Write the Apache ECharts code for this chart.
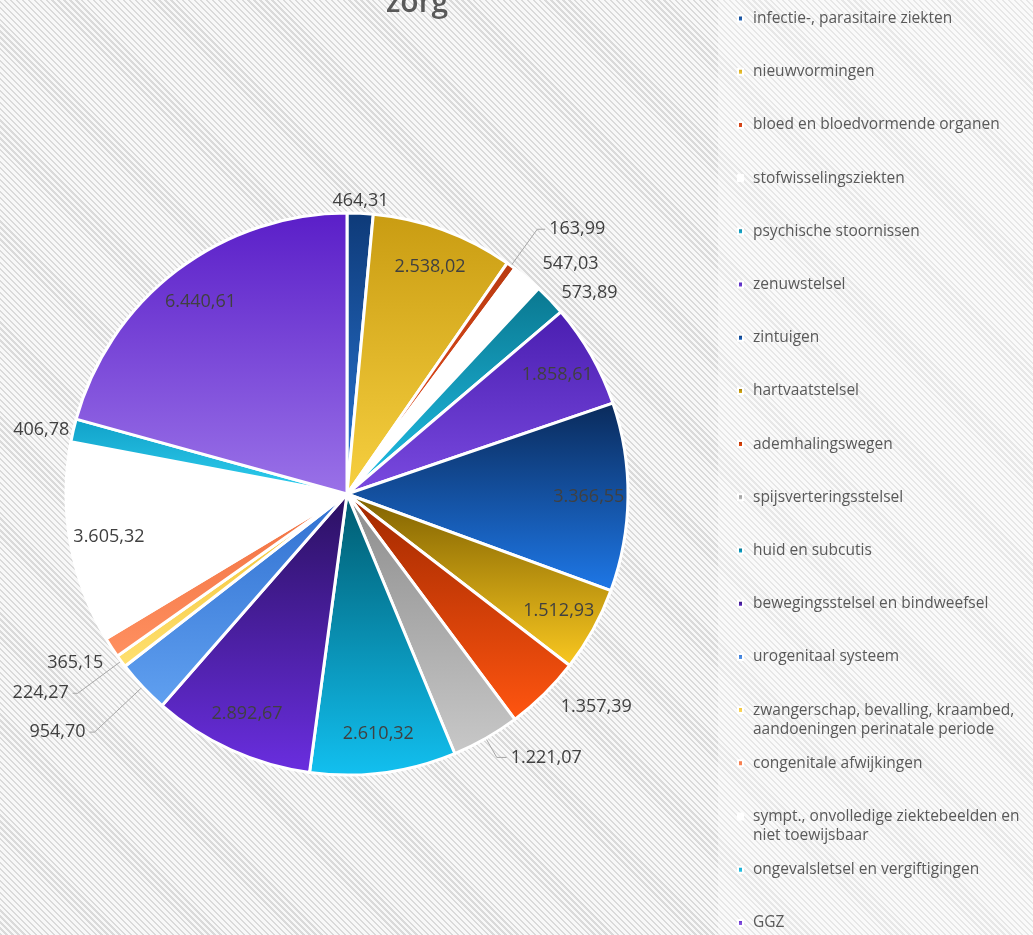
<!DOCTYPE html>
<html>
<head>
<meta charset="utf-8">
<script src="https://cdn.jsdelivr.net/npm/echarts@6/dist/echarts.min.js"></script>
<style>
  body { margin: 0; }
  #wrap {
    position: relative;
    width: 1033px;
    height: 935px;
    background: repeating-linear-gradient(45deg, #dadada 0 1.6px, #f8f8f8 1.6px 4.2px);
  }
  #panel {
    position: absolute;
    left: 718px;
    top: 0;
    width: 315px;
    height: 935px;
    background: rgba(255, 255, 255, 0.35);
  }
  #chart {
    position: absolute;
    left: 0;
    top: 0;
    width: 1033px;
    height: 935px;
  }
</style>
</head>
<body>
<div id="wrap">
  <div id="panel"></div>
  <div id="chart"></div>
</div>
<script>
// categories (legend order = slice order, clockwise from 12 o'clock)
var categories = [
  "infectie-, parasitaire ziekten",
  "nieuwvormingen",
  "bloed en bloedvormende organen",
  "stofwisselingsziekten",
  "psychische stoornissen",
  "zenuwstelsel",
  "zintuigen",
  "hartvaatstelsel",
  "ademhalingswegen",
  "spijsverteringsstelsel",
  "huid en subcutis",
  "bewegingsstelsel en bindweefsel",
  "urogenitaal systeem",
  "zwangerschap, bevalling, kraambed, aandoeningen perinatale periode",
  "congenitale afwijkingen",
  "sympt., onvolledige ziektebeelden en niet toewijsbaar",
  "ongevalsletsel en vergiftigingen",
  "GGZ"
];
var values = [
  464.31, 2538.02, 163.99, 547.03, 573.89, 1858.61, 3366.55, 1512.93, 1357.39,
  1221.07, 2610.32, 2892.67, 954.70, 224.27, 365.15, 3605.32, 406.78, 6440.61
];
// gradient colours per slice (top -> bottom)
var topColors = [
  "#0e3a78", "#c99c12", "#b83a10", "#ffffff", "#0a7890", "#4a1eb0",
  "#0a2a5a", "#7e6000", "#a02800", "#8c8c8c", "#005a6e", "#2a1060",
  "#3070d0", "#f0c030", "#f07040", "#ffffff", "#10a0c8", "#5a1ec8"
];
var bottomColors = [
  "#2a78d8", "#f7d040", "#f05020", "#ffffff", "#20c0e8", "#7a4ae0",
  "#1e78e8", "#fac820", "#ff5510", "#c8c8c8", "#12c0f0", "#6a2ee0",
  "#60a0f0", "#ffe070", "#ff9060", "#ffffff", "#30d0f0", "#9a72e8"
];

function fmt(v) {
  var parts = v.toFixed(2).split(".");
  return parts[0].replace(/\B(?=(\d{3})+(?!\d))/g, ".") + "," + parts[1];
}

// outside label leader settings (by slice index)
var leader = {
  0: { len: 8, len2: 0, line: false },
  2: { len: 45, len2: 8, line: true },
  3: { len: 18, len2: 0, line: false },
  4: { len: 10, len2: 0, line: false },
  8: { len: 18, len2: 0, line: false },
  9: { len: 22, len2: 10, line: true },
  12: { len: 66, len2: 5, line: true },
  13: { len: 54, len2: 5, line: true },
  14: { len: 5, len2: 0, line: false },
  16: { len: 0, len2: 0, line: false }
};

var fillData = categories.map(function (name, i) {
  return {
    name: name,
    value: values[i],
    itemStyle: {
      color: new echarts.graphic.LinearGradient(0, 0, 0, 1, [
        { offset: 0, color: topColors[i] },
        { offset: 1, color: bottomColors[i] }
      ])
    }
  };
});

var labelData = categories.map(function (name, i) {
  var inside = values[i] >= 1500;
  var l = leader[i] || { len: 10, len2: 0, line: false };
  return {
    name: name,
    value: values[i],
    label: { position: inside ? "inside" : "outside" },
    labelLine: { show: !inside && l.line, length: l.len, length2: l.len2 }
  };
});

var R = 281;
var center = [347, 494];

var legends = categories.map(function (name, i) {
  var long = name.length > 40;
  var lh = 19;
  var h = (long ? 3 : 1) * lh;
  var y = 18.5 + i * 53.2;
  return {
    data: [name],
    orient: "vertical",
    left: 737,
    top: y - h / 2,
    padding: 0,
    icon: "rect",
    itemWidth: 5,
    itemHeight: 6,
    selectedMode: false,
    formatter: function (n) { return long ? "\n" + n : n; },
    textStyle: {
      fontFamily: "Open Sans",
      fontSize: 15.5,
      color: "#595959",
      lineHeight: lh,
      width: 279,
      overflow: "break",
      padding: [0, 0, 0, 5]
    }
  };
});

var chart = echarts.init(document.getElementById("chart"));
chart.setOption({
  backgroundColor: "transparent",
  animation: false,
  title: {
    text: "zorg",
    left: 381,
    top: -17,
    textStyle: {
      fontFamily: "Open Sans",
      fontSize: 30,
      fontWeight: 600,
      color: "#595959"
    }
  },
  legend: legends,
  series: [
    {
      name: "fill",
      type: "pie",
      center: center,
      radius: [0, R],
      startAngle: 90,
      clockwise: true,
      label: { show: false },
      labelLine: { show: false },
      itemStyle: { borderColor: "#ffffff", borderWidth: 3 },
      emphasis: { disabled: true },
      data: fillData
    },
    {
      name: "labels",
      type: "pie",
      center: center,
      radius: [R * 0.7, R],
      startAngle: 90,
      clockwise: true,
      silent: true,
      avoidLabelOverlap: false,
      itemStyle: { color: "rgba(0,0,0,0)", borderWidth: 0 },
      emphasis: { disabled: true },
      label: {
        show: true,
        formatter: function (p) { return fmt(p.value); },
        fontFamily: "Open Sans",
        fontSize: 18,
        color: "#404040",
        distanceToLabelLine: 4
      },
      labelLine: {
        lineStyle: { color: "#a6a6a6", width: 1 }
      },
      labelLayout: function (p) {
        if (p.seriesIndex !== 1) return {};
        if (p.dataIndex === 0) {
          return { dx: -p.labelRect.width / 2 - 4, dy: -4 };
        }
        if (p.dataIndex === 14) {
          return { dy: 13 };
        }
        return {};
      },
      data: labelData
    }
  ]
});
</script>
</body>
</html>
